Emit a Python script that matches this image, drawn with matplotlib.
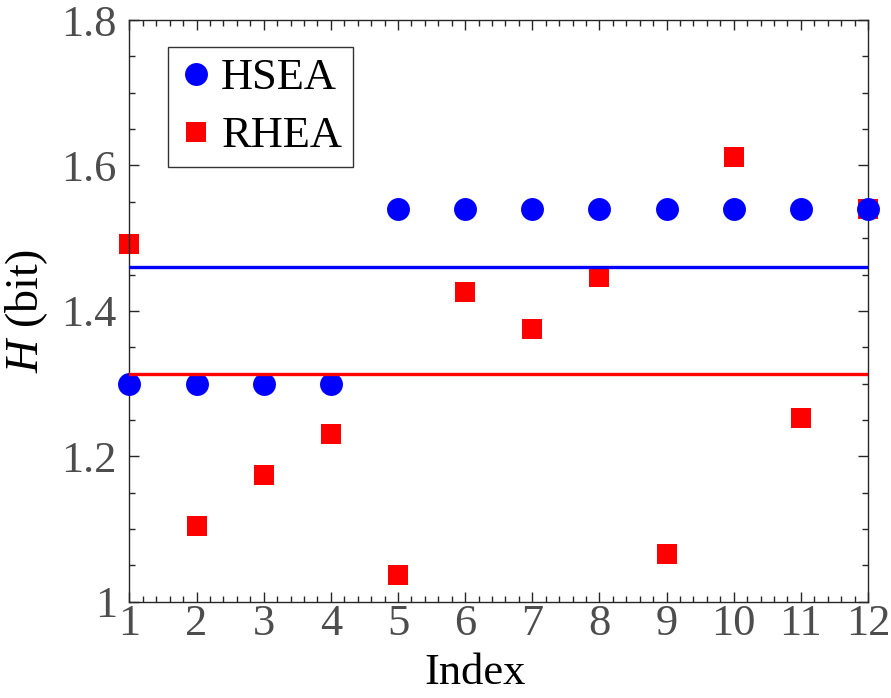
import numpy as np
import matplotlib
matplotlib.use("Agg")
import matplotlib.pyplot as plt
from matplotlib.ticker import MultipleLocator

# Data
index = [1, 2, 3, 4, 5, 6, 7, 8, 9, 10, 11, 12]
hsea = [1.30, 1.30, 1.30, 1.30, 1.54, 1.54, 1.54, 1.54, 1.54, 1.54, 1.54, 1.54]
rhea = [1.492, 1.104, 1.174, 1.230, 1.037, 1.426, 1.375, 1.447, 1.065, 1.612, 1.253, 1.540]
xticks = [1, 2, 3, 4, 5, 6, 7, 8, 9, 10, 11, 12]
yticks = [1.0, 1.2, 1.4, 1.6, 1.8]
ytick_labels = ["1", "1.2", "1.4", "1.6", "1.8"]

hsea_mean = float(np.mean(hsea))
rhea_mean = float(np.mean(rhea))

plt.rcParams['font.family'] = ['Liberation Serif', 'DejaVu Serif']
plt.rcParams['mathtext.fontset'] = 'custom'
plt.rcParams['mathtext.rm'] = 'Liberation Serif'
plt.rcParams['mathtext.it'] = 'Liberation Serif:italic'

fig = plt.figure(figsize=(8.91, 6.98), dpi=100)
ax = fig.add_axes([0.1453, 0.138, 0.8289, 0.8333])

spine_col = '#262626'
tick_col = '#4d4d4d'

ax.plot(index, rhea, linestyle='none', marker='s', markersize=14, color='red',
        markeredgewidth=0, clip_on=False, zorder=2, label='RHEA')
ax.plot(index, hsea, linestyle='none', marker='o', markersize=16.5, color='blue',
        markeredgewidth=0, clip_on=False, zorder=3, label='HSEA')
ax.plot([index[0], index[-1]], [hsea_mean, hsea_mean], color='blue', lw=2.4, zorder=4)
ax.plot([index[0], index[-1]], [rhea_mean, rhea_mean], color='red', lw=2.4, zorder=4)

ax.set_xlim(1, 12)
ax.set_ylim(1.0, 1.8)
ax.set_xticks(xticks)
ax.set_yticks(yticks)
ax.set_yticklabels(ytick_labels)
ax.xaxis.set_minor_locator(MultipleLocator(0.2))
ax.yaxis.set_minor_locator(MultipleLocator(0.05))
ax.tick_params(which='both', direction='in', top=True, right=True, color=spine_col, width=1)
ax.tick_params(which='major', length=7, labelsize=32, labelcolor=tick_col)
ax.tick_params(which='minor', length=4)
ax.tick_params(axis='x', which='major', pad=2)
ax.tick_params(axis='y', which='major', pad=9)
for s in ax.spines.values():
    s.set_color(spine_col)
    s.set_linewidth(1)

ax.set_ylabel(r'$H$ (bit)', fontsize=33, color='black')
ax.yaxis.set_label_coords(-0.108, 0.5)
ax.set_xlabel('Index', fontsize=32, color='black', va='top')
ax.xaxis.set_label_coords(0.468, -0.088)

handles, labels = ax.get_legend_handles_labels()
leg = ax.legend([handles[1], handles[0]], [labels[1], labels[0]],
                loc='upper left', bbox_to_anchor=(0.052, 0.9536), borderaxespad=0,
                fontsize=32, frameon=True, fancybox=False, edgecolor='black',
                handlelength=0.75, handletextpad=0.2, labelspacing=0.4,
                borderpad=0.25)
leg.get_frame().set_linewidth(1)

fig.savefig('out.png', dpi=100)
